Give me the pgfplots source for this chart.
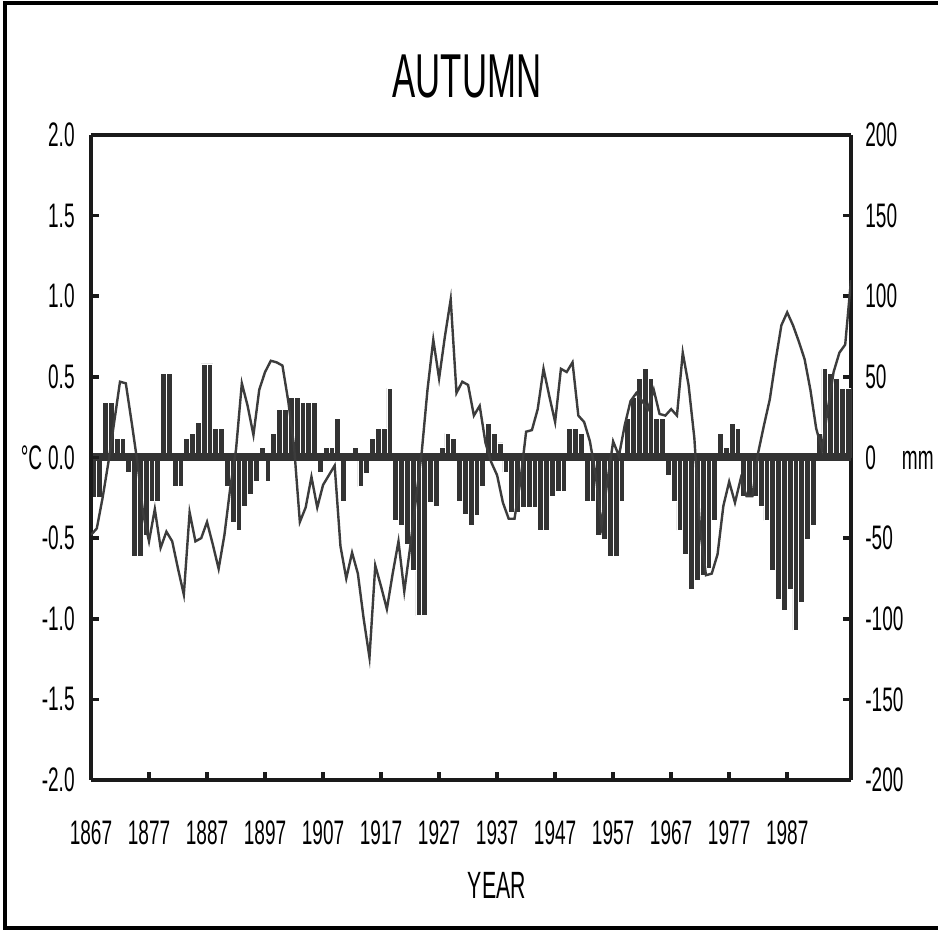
\documentclass[border=0pt]{standalone}
\usepackage{fontspec}
\setmainfont{Liberation Sans}[FakeStretch=0.56]
\usepackage{pgfplots}
\pgfplotsset{compat=1.18}
\usepackage{pgfplotstable}

\definecolor{barc}{HTML}{333333}
\definecolor{linec}{HTML}{3C3C3C}
\definecolor{axc}{HTML}{1A1A1A}

% precipitation anomaly (mm), bars centred in each year
\pgfplotstableread{
x y
1867.5 -25
1868.5 -25
1869.5 34
1870.5 34
1871.5 12
1872.5 12
1873.5 -9
1874.5 -61
1875.5 -61
1876.5 -48
1877.5 -27
1878.5 -27
1879.5 52
1880.5 52
1881.5 -18
1882.5 -18
1883.5 12
1884.5 15
1885.5 22
1886.5 58
1887.5 58
1888.5 18
1889.5 18
1890.5 -18
1891.5 -40
1892.5 -45
1893.5 -30
1894.5 -23
1895.5 -15
1896.5 6
1897.5 -15
1898.5 15
1899.5 30
1900.5 30
1901.5 37
1902.5 37
1903.5 34
1904.5 34
1905.5 34
1906.5 -9
1907.5 6
1908.5 6
1909.5 24
1910.5 -27
1911.5 3
1912.5 6
1913.5 -18
1914.5 -10
1915.5 12
1916.5 18
1917.5 18
1918.5 43
1919.5 -39
1920.5 -42
1921.5 -54
1922.5 -70
1923.5 -98
1924.5 -98
1925.5 -28
1926.5 -30
1927.5 6
1928.5 15
1929.5 12
1930.5 -27
1931.5 -35
1932.5 -42
1933.5 -36
1934.5 -18
1935.5 21
1936.5 15
1937.5 9
1938.5 -9
1939.5 -34
1940.5 -34
1941.5 -31
1942.5 -31
1943.5 -31
1944.5 -45
1945.5 -45
1946.5 -24
1947.5 -21
1948.5 -21
1949.5 18
1950.5 18
1951.5 15
1952.5 -27
1953.5 -27
1954.5 -48
1955.5 -51
1956.5 -61
1957.5 -61
1958.5 -27
1959.5 24
1960.5 37
1961.5 49
1962.5 55
1963.5 49
1964.5 24
1965.5 24
1966.5 -11
1967.5 -27
1968.5 -45
1969.5 -60
1970.5 -82
1971.5 -76
1972.5 -73
1973.5 -69
1974.5 -39
1975.5 15
1976.5 6
1977.5 21
1978.5 18
1979.5 -24
1980.5 -24
1981.5 -24
1982.5 -30
1983.5 -39
1984.5 -70
1985.5 -88
1986.5 -95
1987.5 -82
1988.5 -107
1989.5 -90
1990.5 -51
1991.5 -42
1992.5 15
1993.5 55
1994.5 52
1995.5 49
1996.5 43
1997.5 43
}\precip

% temperature anomaly (deg C)
\pgfplotstableread{
x t
1867 -0.48
1868 -0.44
1869 -0.25
1870 -0.03
1871 0.22
1872 0.47
1873 0.46
1874 0.22
1875 -0.03
1876 -0.35
1877 -0.52
1878 -0.32
1879 -0.56
1880 -0.46
1881 -0.52
1882 -0.69
1883 -0.85
1884 -0.34
1885 -0.52
1886 -0.50
1887 -0.40
1888 -0.54
1889 -0.69
1890 -0.48
1891 -0.19
1892 0.05
1893 0.46
1894 0.32
1895 0.14
1896 0.42
1897 0.53
1898 0.60
1899 0.59
1900 0.57
1901 0.35
1902 0.07
1903 -0.40
1904 -0.31
1905 -0.12
1906 -0.31
1907 -0.17
1908 -0.11
1909 -0.05
1910 -0.55
1911 -0.75
1912 -0.59
1913 -0.72
1914 -1.00
1915 -1.24
1916 -0.67
1917 -0.80
1918 -0.94
1919 -0.72
1920 -0.52
1921 -0.83
1922 -0.56
1923 -0.26
1924 0.03
1925 0.42
1926 0.73
1927 0.49
1928 0.75
1929 0.98
1930 0.40
1931 0.47
1932 0.45
1933 0.26
1934 0.32
1935 0.09
1936 -0.03
1937 -0.11
1938 -0.28
1939 -0.38
1940 -0.38
1941 -0.15
1942 0.16
1943 0.17
1944 0.30
1945 0.55
1946 0.38
1947 0.22
1948 0.55
1949 0.53
1950 0.59
1951 0.26
1952 0.22
1953 0.10
1954 -0.11
1955 -0.42
1956 -0.15
1957 0.10
1958 0.01
1959 0.20
1960 0.35
1961 0.40
1962 0.35
1963 0.30
1964 0.42
1965 0.27
1966 0.26
1967 0.30
1968 0.26
1969 0.65
1970 0.45
1971 0.12
1972 -0.45
1973 -0.73
1974 -0.72
1975 -0.60
1976 -0.30
1977 -0.15
1978 -0.28
1979 -0.13
1980 -0.24
1981 -0.24
1982 0.03
1983 0.20
1984 0.36
1985 0.60
1986 0.82
1987 0.90
1988 0.82
1989 0.72
1990 0.61
1991 0.42
1992 0.18
1993 0.05
1994 0.30
1995 0.53
1996 0.65
1997 0.70
1998 1.10
}\temp

\begin{document}
\begin{tikzpicture}
\useasboundingbox (0,0) rectangle (469pt,466pt);
\fill[white] (0,0) rectangle (469pt,466pt);
\draw[line width=2pt, black] (490pt,464.5pt) -- (2.5pt,464.5pt) -- (2.5pt,2pt) -- (490pt,2pt);

% right axis: precipitation (mm) bars
\begin{axis}[
  at={(45.5pt,76pt)}, anchor=south west,
  scale only axis, width=380pt, height=322.5pt,
  xmin=1867, xmax=1998, ymin=-200, ymax=200,
  hide x axis,
  axis y line*=right,
  ytick={-200,-150,-100,-50,0,50,100,150,200},
  yticklabels={-200,-150,-100,-50,{0\kern13pt mm},50,100,150,200},
  tick align=inside, major tick length=4pt,
  tick style={line width=1.8pt, color=axc},
  axis line style={line width=1.8pt, color=axc},
  yticklabel style={font=\fontsize{17}{18}\selectfont, inner sep=0pt, xshift=7pt},
]
\addplot[ybar, bar width=1, fill=barc, draw=white, line width=0.35pt] table[x=x, y=y] {\precip};
\addplot[barc, line width=4pt] coordinates {(1867,0) (1998,0)};
\end{axis}

% left axis: temperature (deg C) line
\begin{axis}[
  at={(45.5pt,76pt)}, anchor=south west,
  scale only axis, width=380pt, height=322.5pt,
  xmin=1867, xmax=1998, ymin=-2, ymax=2,
  axis y line*=left,
  xtick={1867,1877,1887,1897,1907,1917,1927,1937,1947,1957,1967,1977,1987},
  xticklabels={1867,1877,1887,1897,1907,1917,1927,1937,1947,1957,1967,1977,1987},
  xtick pos=left,
  ytick={-2,-1.5,-1,-0.5,0,0.5,1,1.5,2},
  yticklabels={-2.0,-1.5,-1.0,-0.5,{°C\kern3pt 0.0},0.5,1.0,1.5,2.0},
  tick align=inside, major tick length=4pt,
  tick style={line width=1.8pt, color=axc},
  axis line style={line width=1.8pt, color=axc},
  yticklabel style={font=\fontsize{17}{18}\selectfont, inner sep=0pt, xshift=-8pt},
  xticklabel style={font=\fontsize{17}{18}\selectfont, inner sep=0pt, yshift=-20pt},
  title={AUTUMN},
  title style={font=\fontsize{31}{33}\selectfont, inner sep=0pt, yshift=12pt, xshift=-2pt},
  xlabel={YEAR},
  xlabel style={font=\fontsize{19}{20}\selectfont, inner sep=0pt, at={(rel axis cs:0.534,0)}, anchor=north, yshift=-46pt},
]
\addplot[linec, line width=1.2pt] table[x=x, y=t] {\temp};
\end{axis}
\end{tikzpicture}
\end{document}
